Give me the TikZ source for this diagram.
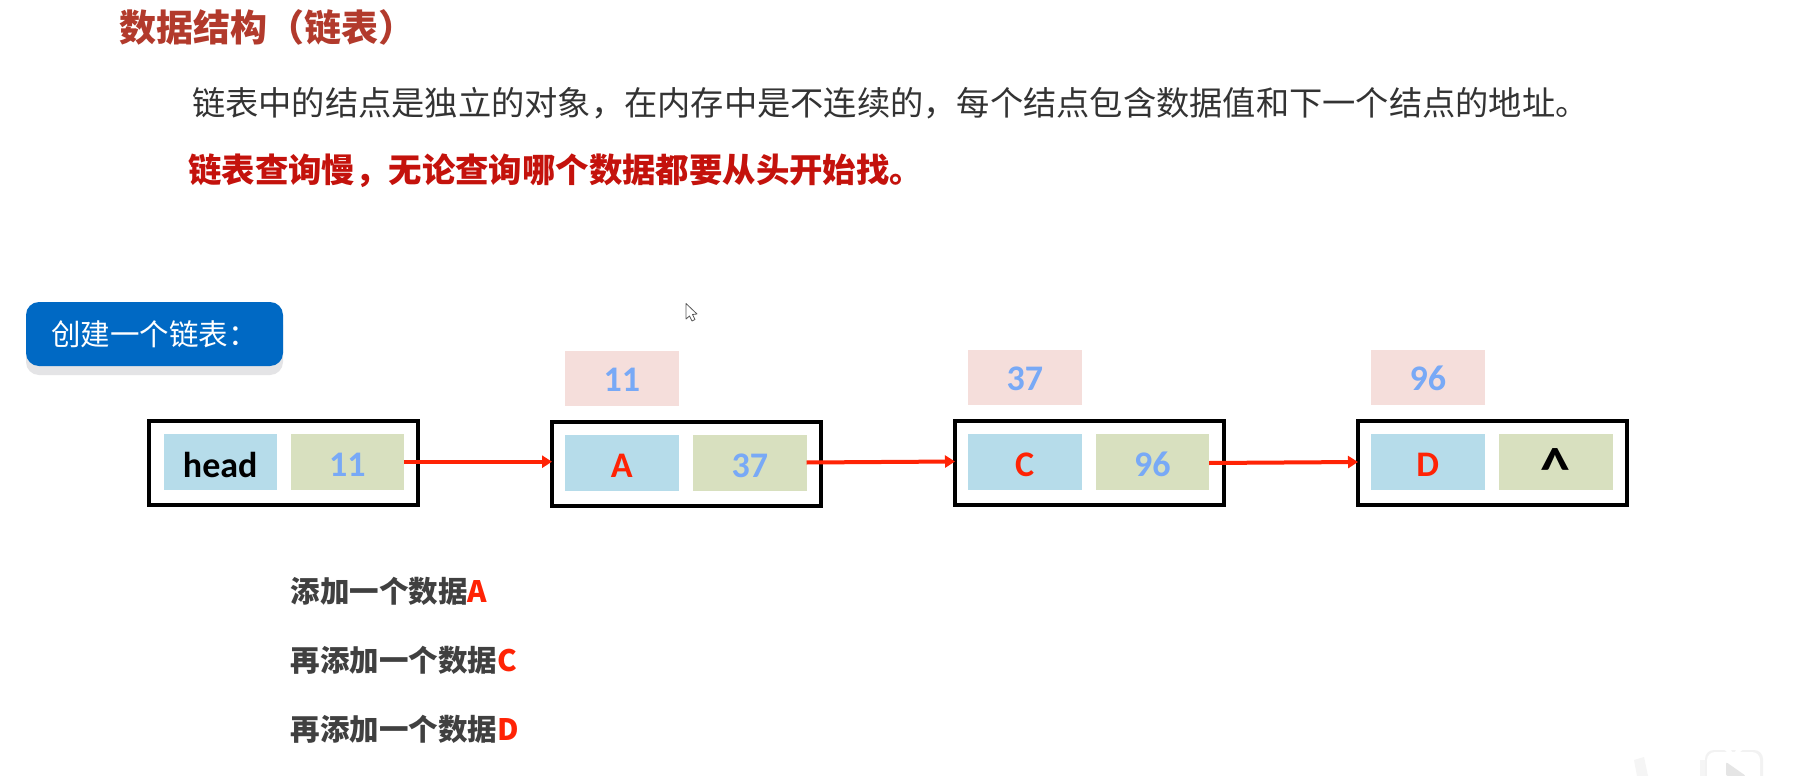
\documentclass[tikz,border=0pt]{standalone}
\usepackage{fontspec}
\setmainfont{Carlito}
\newfontfamily\cjk{Noto Sans CJK SC}
\usetikzlibrary{arrows.meta,positioning}
\definecolor{cellblue}{HTML}{B6DCEA}
\definecolor{cellgreen}{HTML}{D8E0BF}
\definecolor{cellpink}{HTML}{F5DEDB}
\definecolor{numblue}{HTML}{78A9F6}
\definecolor{linkred}{HTML}{FF2305}
\definecolor{titlered}{HTML}{B23A2C}
\definecolor{warnred}{HTML}{C4120C}
\definecolor{bodygray}{HTML}{333333}
\definecolor{stepgray}{HTML}{404040}
\definecolor{btnblue}{HTML}{0069C4}
\definecolor{btnshadow}{HTML}{E4E4E6}
\newcommand{\fsz}[1]{\fontsize{#1}{#1}\selectfont}
\newcommand{\cellt}[1]{\raisebox{-2.5pt}[\height][\depth]{#1}}
\newcommand{\addrt}[1]{\raisebox{-1.2pt}[\height][\depth]{#1}}
\tikzset{
  cell/.style={inner sep=0pt,outer sep=0pt,minimum width=113.5pt,minimum height=56pt,font=\fsz{36}\bfseries},
  datacell/.style={cell,fill=cellblue,text=linkred},
  nextcell/.style={cell,fill=cellgreen,text=numblue},
  addrcell/.style={cell,fill=cellpink,text=numblue},
  nodebox/.style={draw=black,line width=4pt,inner sep=0pt,outer sep=0pt,minimum width=269pt,minimum height=84pt},
  link/.style={draw=linkred,line width=4pt,-{Triangle[length=10pt,width=12pt]}},
  heading/.style={anchor=west,inner sep=0pt,text=titlered,font=\cjk\fsz{37}\bfseries},
  bodytext/.style={anchor=west,inner sep=0pt,text=bodygray,font=\cjk\fsz{33.25}},
  warntext/.style={anchor=west,inner sep=0pt,text=warnred,font=\cjk\fsz{33.4}\bfseries},
  steptext/.style={anchor=west,inner sep=0pt,text=stepgray,font=\cjk\fsz{29.5}\bfseries},
}
\begin{document}
\begin{tikzpicture}[x=1pt,y=-1pt]
\fill[white] (0,0) rectangle (1799,776);
\useasboundingbox (0,0) rectangle (1799,776);

\node[heading] (title) at (119,27.5) {数据结构（链表）};
\node[bodytext] (body) at (192,103) {链表中的结点是独立的对象，在内存中是不连续的，每个结点包含数据值和下一个结点的地址。};
\node[warntext] (warn) at (188,171) {链表查询慢，无论查询哪个数据都要从头开始找。};

% button
\fill[btnshadow,rounded corners=13pt] (26,312) rectangle (283,375);
\node[fill=btnblue,rounded corners=13pt,inner sep=0pt,outer sep=0pt,minimum width=257pt,minimum height=64pt,anchor=north west] (btn) at (26,302) {};
\node[anchor=west,inner sep=0pt,text=white,font=\cjk\fsz{29.5}] (btntext) at (51,334) {创建一个链表：};

% cursor
\draw[fill=white,draw=gray!70!black,line width=0.8pt,line join=round] (686,303.5) -- (686,319) -- (689.5,316) -- (692,321) -- (695,319.5) -- (692.5,314.5) -- (697,314) -- cycle;

% head
\node[nodebox,anchor=north west] (headbox) at (148.5,421) {};
\node[datacell,text=black,anchor=north west] (headd) at (163.5,434) {\cellt{head}};
\node[nextcell,anchor=north west] (headn) at (290.5,434) {\cellt{11}};

% A
\node[nodebox,anchor=north west] (abox) at (552,422) {};
\node[datacell,anchor=north west] (ad) at (565,435) {\cellt{A}};
\node[nextcell,anchor=north west] (an) at (693,435) {\cellt{37}};
\node[addrcell,anchor=north west,minimum height=55pt] (aa) at (565,351) {\addrt{11}};

% C
\node[nodebox,anchor=north west] (cbox) at (955,421) {};
\node[datacell,anchor=north west] (cd) at (968,434) {\cellt{C}};
\node[nextcell,anchor=north west] (cn) at (1095.5,434) {\cellt{96}};
\node[addrcell,anchor=north west,minimum height=55pt] (ca) at (968,350) {\addrt{37}};

% D
\node[nodebox,anchor=north west] (dbox) at (1358,421) {};
\node[datacell,anchor=north west] (dd) at (1371,434) {\cellt{D}};
\node[nextcell,anchor=north west] (dn) at (1499,434) {};
\node[addrcell,anchor=north west,minimum height=55pt] (da) at (1371,350) {\addrt{96}};
\node[inner sep=0pt,font=\fsz{60}\bfseries,text=black] (nul) at (1555.5,469.5) {\textasciicircum};

% links
\coordinate (s1) at ([yshift=0.3pt]headn.east);
\coordinate (s2) at ([yshift=0.5pt]an.east);
\coordinate (s3) at ([yshift=-1pt]cn.east);
\draw[link] (s1) -- (abox.west |- s1);
\draw[link] (s2) -- ([yshift=1pt]cbox.west |- s2);
\draw[link] (s3) -- ([yshift=1pt]dbox.west |- s3);

% steps
\node[steptext] (st1) at (290.5,591) {添加一个数据\textcolor{linkred}{A}};
\node[steptext] (st2) at (290.5,660) {再添加一个数据\textcolor{linkred}{C}};
\node[steptext] (st3) at (290.5,729.5) {再添加一个数据\textcolor{linkred}{D}};

% watermark
\begin{scope}
\clip (0,0) rectangle (1799,776);
\fill[black!4] (1634,760) -- (1644,757) -- (1648,776) -- (1637,776) -- cycle;
\fill[black!4] (1700,760) -- (1708,760) -- (1708,776) -- (1700,776) -- cycle;
\fill[black!5,rounded corners=9pt] (1705,750) rectangle (1763,790);
\fill[white,rounded corners=8pt] (1707,752) rectangle (1760,790);
\draw[white,line width=4pt,line cap=round] (1722,745) -- (1730,752);
\draw[white,line width=4pt,line cap=round] (1745,745) -- (1737,752);
\fill[black!10,rounded corners=2pt] (1726,762) -- (1726,776) -- (1746,776) -- cycle;
\end{scope}
\end{tikzpicture}
\end{document}
